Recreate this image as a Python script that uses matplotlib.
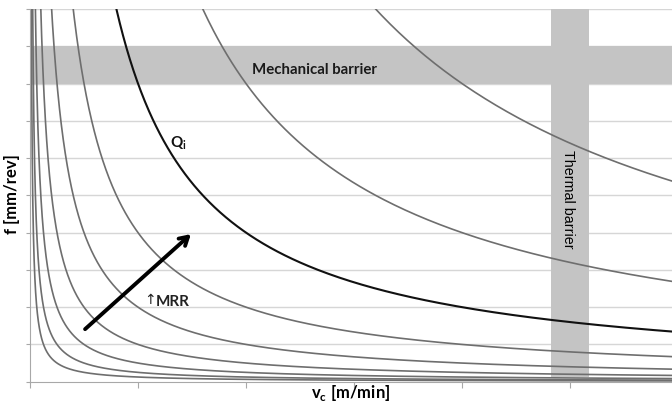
import numpy as np
import matplotlib
matplotlib.use("Agg")
import matplotlib.pyplot as plt

# iso-MRR levels (f * vc = const), in axis units (x tick step x gridline step)
mrr_levels = [0.125, 0.25, 0.5, 1, 2, 4, 8, 16, 32]
qi_level = 8                      # the highlighted Q_i curve
x_ticks = [0, 1, 2, 3, 4, 5]
y_grid = [0, 1, 2, 3, 4, 5, 6, 7, 8, 9, 10]
mech_band = (8.0, 9.0)            # mechanical barrier, f range
therm_band = (4.82, 5.18)         # thermal barrier, vc range
arrow_tail = (0.51, 1.41)
arrow_head = (1.49, 3.96)

GRAY = "#6e6e6e"
BAND = "#c4c4c4"
GRID = "#d6d6d6"
AXIS = "#a8a8a8"

plt.rcParams["mathtext.fontset"] = "custom"
plt.rcParams["mathtext.rm"] = "Lato"
plt.rcParams["mathtext.bf"] = "Lato:bold"

fig = plt.figure(figsize=(6.72, 4.05), dpi=100)
ax = fig.add_axes([30 / 672, 23.3 / 405, 642 / 672, 372.7 / 405])
ax.set_xlim(0, 642 / 108)
ax.set_ylim(0, 10)

# gridlines
for g in y_grid[1:]:
    ax.axhline(g, color=GRID, lw=1.0, zorder=1)

# barriers
ax.axhspan(*mech_band, color=BAND, lw=0, zorder=2)
ax.axvspan(*therm_band, ymin=0.013, ymax=1.0, color=BAND, lw=0, zorder=2)

# iso-MRR hyperbolas
vc = np.geomspace(1e-3, 6.5, 1500)
for q in mrr_levels:
    if q == qi_level:
        ax.plot(vc, q / vc, color="#111111", lw=1.5, zorder=4)
    else:
        ax.plot(vc, q / vc, color=GRAY, lw=1.2, zorder=3)

ax.annotate("", xy=arrow_head, xytext=arrow_tail,
            arrowprops=dict(arrowstyle="->,head_length=0.6,head_width=0.35",
                            lw=2.8, color="black", shrinkA=0, shrinkB=0),
            zorder=5)

ax.text(2.63, 8.36, "Mechanical barrier", fontsize=10.8, fontweight="bold",
        family="Lato", color="#1a1a1a", ha="center", va="center", zorder=6)
ax.text(4.985, 4.9, "Thermal barrier", fontsize=10.3, rotation=-90,
        family="Liberation Sans", color="#000000", ha="center", va="center", zorder=6)
ax.text(1.37, 6.4, r"Q$_{\mathbf{i}}$", fontsize=11, fontweight="bold",
        family="Lato", color="#111111", ha="center", va="center", zorder=6)
ax.text(1.11, 2.19, "\u2191", fontsize=10, family=["DejaVu Sans"],
        color="#222222", ha="center", va="center", zorder=6)
ax.text(1.16, 2.15, "MRR", fontsize=11, fontweight="bold", family="Lato",
        color="#222222", ha="left", va="center", zorder=6)

fig.text(351 / 672, 2 / 405, r"v$_{\mathbf{c}}$ [m/min]", fontsize=12,
         fontweight="bold", family="Lato", ha="center", va="bottom")
fig.text(12 / 672, 0.52, "f [mm/rev]", fontsize=12, fontweight="bold",
         family="Lato", rotation=90, ha="center", va="center")

ax.set_xticks(x_ticks)
ax.set_yticks(y_grid)
ax.tick_params(axis="x", length=4, color=AXIS, labelbottom=False)
ax.tick_params(axis="y", length=3, color=AXIS, labelleft=False)
for s in ["top", "right"]:
    ax.spines[s].set_visible(False)
for s in ["left", "bottom"]:
    ax.spines[s].set_color(AXIS)
    ax.spines[s].set_zorder(7)

fig.savefig("out.png", dpi=100)
